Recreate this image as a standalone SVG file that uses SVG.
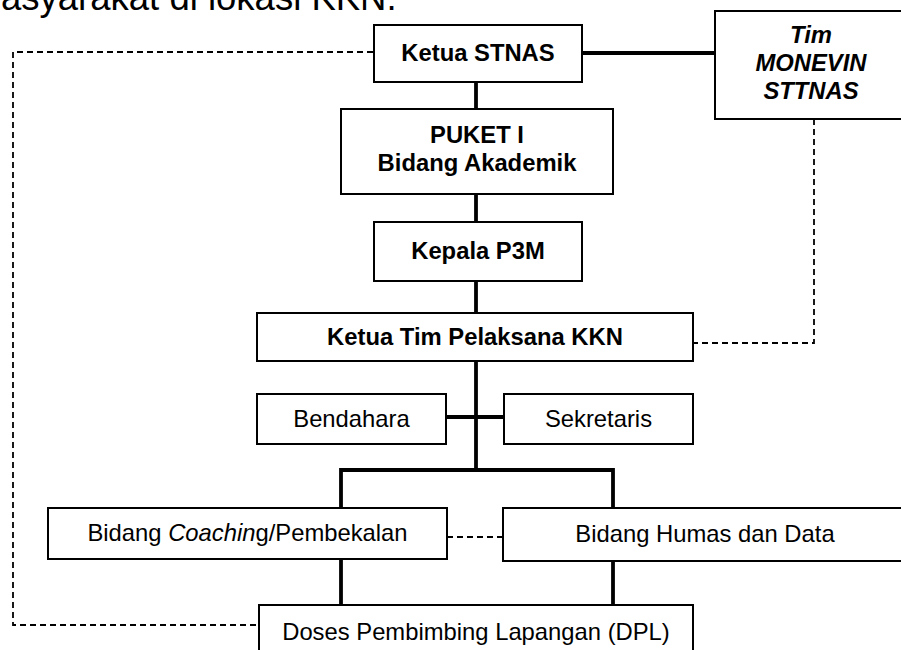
<svg xmlns="http://www.w3.org/2000/svg" width="901" height="650" viewBox="0 0 901 650">
<style>
  .box{fill:#fff;stroke:#000;stroke-width:2}
  .t{font-family:"Liberation Sans",Arial,sans-serif;font-size:23.8px;fill:#000;text-anchor:middle}
  .b{font-weight:bold}
  .i{font-style:italic}
  .solid{stroke:#000;stroke-width:3.8;fill:none}
  .dash{stroke:#000;stroke-width:1.8;fill:none;stroke-dasharray:6,4}
</style>
<rect width="901" height="650" fill="#fff"/>
<text x="1" y="10" font-family="Liberation Sans,Arial,sans-serif" font-size="36.5" fill="#000">asyarakat di lokasi KKN.</text>
<g id="connectors">
  <line class="solid" x1="582" y1="53" x2="715" y2="53"/>
  <line class="solid" x1="476" y1="82" x2="476" y2="109"/>
  <line class="solid" x1="476" y1="194" x2="476" y2="222"/>
  <line class="solid" x1="476" y1="281" x2="476" y2="313"/>
  <line class="solid" x1="476" y1="361" x2="476" y2="470"/>
  <line class="solid" x1="446" y1="417" x2="504" y2="417"/>
  <polyline class="solid" points="341,508 341,470 613,470 613,508"/>
  <line class="solid" x1="341" y1="559" x2="341" y2="605"/>
  <line class="solid" x1="613" y1="561" x2="613" y2="605"/>
  <polyline class="dash" points="373,52 13,52 13,625 259,625"/>
  <polyline class="dash" points="814,119 814,343 693,343"/>
  <line class="dash" x1="447" y1="537" x2="503" y2="537"/>
</g>
<g id="ketua-stnas"><rect class="box" x="374" y="25" width="208" height="57"/><text class="t b" x="478" y="61">Ketua STNAS</text></g>
<g id="tim-monevin"><rect class="box" x="715" y="11" width="192" height="108"/><text class="t b i" x="811" y="43">Tim</text><text class="t b i" x="811" y="71">MONEVIN</text><text class="t b i" x="811" y="99">STTNAS</text></g>
<g id="puket"><rect class="box" x="341" y="109" width="272" height="85"/><text class="t b" x="477" y="143">PUKET I</text><text class="t b" x="477" y="171">Bidang Akademik</text></g>
<g id="kepala-p3m"><rect class="box" x="374" y="222" width="208" height="59"/><text class="t b" x="478" y="259">Kepala P3M</text></g>
<g id="ketua-tim"><rect class="box" x="257" y="313" width="436" height="48"/><text class="t b" x="475" y="345">Ketua Tim Pelaksana KKN</text></g>
<g id="bendahara"><rect class="box" x="257" y="394" width="189" height="50"/><text class="t" x="351.5" y="427">Bendahara</text></g>
<g id="sekretaris"><rect class="box" x="504" y="394" width="189" height="50"/><text class="t" x="598.5" y="427">Sekretaris</text></g>
<g id="coaching"><rect class="box" x="48" y="508" width="399" height="51"/><text class="t" x="247.5" y="541">Bidang <tspan class="i">Coachin</tspan>g/Pembekalan</text></g>
<g id="humas"><rect class="box" x="503" y="508" width="404" height="53"/><text class="t" x="705" y="542">Bidang Humas dan Data</text></g>
<g id="dpl"><rect class="box" x="259" y="605" width="434" height="60"/><text class="t" x="476" y="640">Doses Pembimbing Lapangan (DPL)</text></g>
</svg>
